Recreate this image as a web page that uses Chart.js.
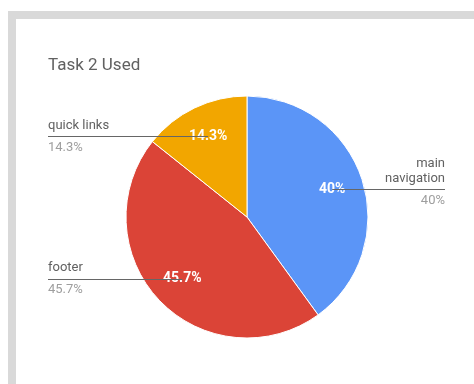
<!DOCTYPE html>
<html>
<head>
<meta charset="utf-8">
<script src="https://cdn.jsdelivr.net/npm/chart.js@4.4.1/dist/chart.umd.min.js"></script>
<style>
  html, body { margin: 0; padding: 0; background: #ffffff; }
  body { width: 474px; height: 384px; position: relative; overflow: hidden; font-family: Roboto, "Noto Sans", sans-serif; }
  .frame-top { position: absolute; left: 8px; top: 11px; width: 466px; height: 8px; background: #d9d9d9; }
  .frame-left { position: absolute; left: 8px; top: 11px; width: 8px; height: 373px; background: #d9d9d9; }
  #wrap { position: absolute; left: 0; top: 0; width: 474px; height: 384px; }
</style>
</head>
<body>
<div class="frame-top"></div>
<div class="frame-left"></div>
<div id="wrap"><canvas id="chart" width="474" height="384"></canvas></div>
<script>
// Responses per page area
const title = 'Task 2 Used';
const categories = ['main navigation', 'footer', 'quick links'];
const counts = [14, 16, 5];
const sliceColors = ['#5b95f7', '#db4437', '#f2a600'];

const total = counts.reduce((a, b) => a + b, 0);
function pctText(v) {
  const p = Math.round(v / total * 1000) / 10;
  return (Number.isInteger(p) ? p.toFixed(0) : p.toFixed(1)) + '%';
}

function wrapWords(ctx, text, maxWidth) {
  const words = text.split(' ');
  const lines = [];
  let line = '';
  words.forEach(w => {
    const test = line ? line + ' ' + w : w;
    if (line && ctx.measureText(test).width > maxWidth) {
      lines.push(line);
      line = w;
    } else {
      line = test;
    }
  });
  if (line) lines.push(line);
  return lines;
}

// Title, in-slice percentages and side labels with leader lines
const calloutPlugin = {
  id: 'callouts',
  afterDatasetsDraw(chart) {
    const ctx = chart.ctx;
    const meta = chart.getDatasetMeta(0);
    ctx.save();

    ctx.font = '17px Roboto';
    ctx.fillStyle = '#616161';
    ctx.textAlign = 'left';
    ctx.textBaseline = 'middle';
    ctx.fillText(title, 48, 66);

    const anchors = meta.data.map(arc => {
      const mid = (arc.startAngle + arc.endAngle) / 2;
      const r = arc.outerRadius * 0.74;
      return { x: arc.x + Math.cos(mid) * r, y: arc.y + Math.sin(mid) * r, cx: arc.x };
    });

    // percentages inside slices
    ctx.font = 'bold 14px Roboto';
    ctx.fillStyle = '#ffffff';
    ctx.textAlign = 'center';
    ctx.textBaseline = 'middle';
    anchors.forEach((a, i) => ctx.fillText(pctText(counts[i]), a.x, a.y));

    // leader lines and side text
    anchors.forEach((a, i) => {
      const left = a.x < a.cx;
      const edge = left ? 48 : 445;
      ctx.strokeStyle = '#666666';
      ctx.lineWidth = 1;
      ctx.beginPath();
      ctx.moveTo(edge, Math.round(a.y) + 0.5);
      ctx.lineTo(a.x, Math.round(a.y) + 0.5);
      ctx.stroke();

      ctx.font = '13px Roboto';
      ctx.textAlign = left ? 'left' : 'right';
      ctx.textBaseline = 'middle';
      const lines = wrapWords(ctx, categories[i], 80);
      ctx.fillStyle = '#616161';
      lines.forEach((ln, k) => {
        ctx.fillText(ln, edge, a.y - 11 - (lines.length - 1 - k) * 15);
      });
      ctx.fillStyle = '#9e9e9e';
      ctx.fillText(pctText(counts[i]), edge, a.y + 11);
    });

    ctx.restore();
  }
};

new Chart(document.getElementById('chart'), {
  type: 'pie',
  data: {
    labels: categories,
    datasets: [{
      data: counts,
      backgroundColor: sliceColors,
      borderColor: '#ffffff',
      borderWidth: 1
    }]
  },
  options: {
    responsive: false,
    animation: false,
    radius: 121,
    layout: { padding: { left: 126, right: 106, top: 96, bottom: 46 } },
    plugins: {
      legend: { display: false },
      tooltip: { enabled: false },
      title: { display: false }
    }
  },
  plugins: [calloutPlugin]
});
</script>
</body>
</html>
